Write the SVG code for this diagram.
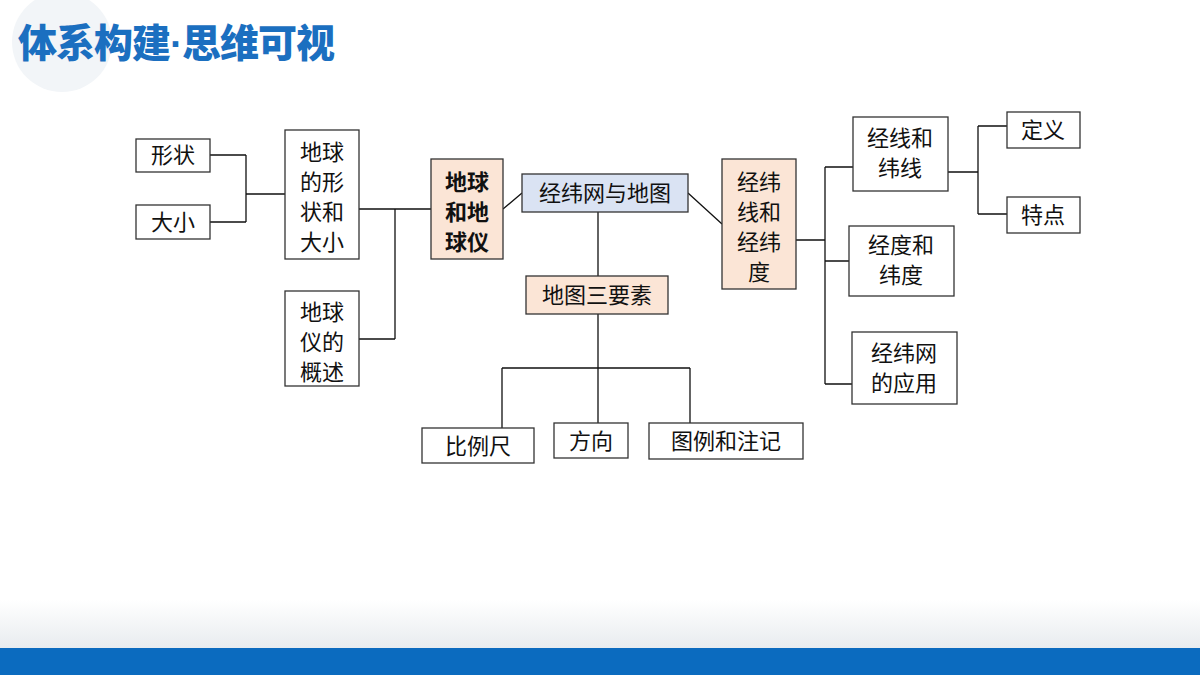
<svg xmlns="http://www.w3.org/2000/svg" width="1200" height="675" viewBox="0 0 1200 675">
<defs>
<linearGradient id="g" x1="0" y1="0" x2="0" y2="1"><stop offset="0" stop-color="#ffffff"/><stop offset="1" stop-color="#e8ecef"/></linearGradient>
<style>
.b rect{stroke:#333;stroke-width:1.3;fill:#fff}
.p rect{fill:#fbe5d6}
.u rect{fill:#dae3f3}
text{font-family:"Noto Sans CJK SC",sans-serif;font-size:22px;fill:#111;text-anchor:middle}
.bold text{font-weight:bold}
#conn{stroke:#111;stroke-width:1.3;fill:none}
</style>
</defs>
<rect width="1200" height="675" fill="#fff"/>
<circle cx="62" cy="42" r="50" fill="#f2f5f8"/>
<rect x="0" y="600" width="1200" height="48" fill="url(#g)"/>
<rect x="0" y="648" width="1200" height="27" fill="#0b6bbf"/>
<text x="18" y="57" style="font-size:39px;font-weight:900;fill:#1b6fc0;text-anchor:start;letter-spacing:-1px">体系构建<tspan style="font-family:'Liberation Sans',sans-serif;font-weight:bold">·</tspan>思维可视</text>
<g id="conn">
<path d="M210 155H246M210 222H246M246 155V222M246 194H285"/>
<path d="M359 209H395M359 339H395M395 209V339M395 209H431"/>
<path d="M503 209L522 193M688 193L722 224"/>
<path d="M598 212V276M598 314V368M502 368H690M502 368V428M598 368V423M690 368V423"/>
<path d="M796 240H825M825 167V384M825 167H853M825 261H849M825 384H852"/>
<path d="M948 172H978M978 126V214M978 126H1007M978 214H1007"/>
</g>
<g id="n1" class="b"><rect x="136" y="139" width="74" height="33"/><text x="173" y="163">形状</text></g>
<g id="n2" class="b"><rect x="136" y="205" width="74" height="34"/><text x="173" y="230">大小</text></g>
<g id="n3" class="b"><rect x="285" y="130" width="74" height="129"/><text x="322" y="160">地球</text><text x="322" y="190">的形</text><text x="322" y="220">状和</text><text x="322" y="250">大小</text></g>
<g id="n4" class="b"><rect x="285" y="291" width="74" height="95"/><text x="322" y="320">地球</text><text x="322" y="350">仪的</text><text x="322" y="380">概述</text></g>
<g id="n5" class="b p bold"><rect x="431" y="159" width="72" height="100"/><text x="467" y="190">地球</text><text x="467" y="220">和地</text><text x="467" y="250">球仪</text></g>
<g id="n6" class="b u"><rect x="522" y="174" width="166" height="38"/><text x="605" y="201">经纬网与地图</text></g>
<g id="n7" class="b p"><rect x="722" y="159" width="74" height="130"/><text x="759" y="190">经纬</text><text x="759" y="220">线和</text><text x="759" y="250">经纬</text><text x="759" y="280">度</text></g>
<g id="n8" class="b p"><rect x="526" y="276" width="142" height="38"/><text x="597" y="303">地图三要素</text></g>
<g id="n9" class="b"><rect x="422" y="428" width="112" height="35"/><text x="478" y="454">比例尺</text></g>
<g id="n10" class="b"><rect x="554" y="423" width="74" height="35"/><text x="591" y="449">方向</text></g>
<g id="n11" class="b"><rect x="649" y="423" width="154" height="36"/><text x="726" y="449">图例和注记</text></g>
<g id="n12" class="b"><rect x="853" y="117" width="95" height="74"/><text x="900" y="146">经线和</text><text x="900" y="176">纬线</text></g>
<g id="n13" class="b"><rect x="849" y="226" width="105" height="70"/><text x="901" y="253">经度和</text><text x="901" y="283">纬度</text></g>
<g id="n14" class="b"><rect x="852" y="332" width="105" height="72"/><text x="904" y="361">经纬网</text><text x="904" y="391">的应用</text></g>
<g id="n15" class="b"><rect x="1007" y="112" width="73" height="36"/><text x="1043" y="138">定义</text></g>
<g id="n16" class="b"><rect x="1007" y="197" width="73" height="36"/><text x="1043" y="223">特点</text></g>
</svg>
